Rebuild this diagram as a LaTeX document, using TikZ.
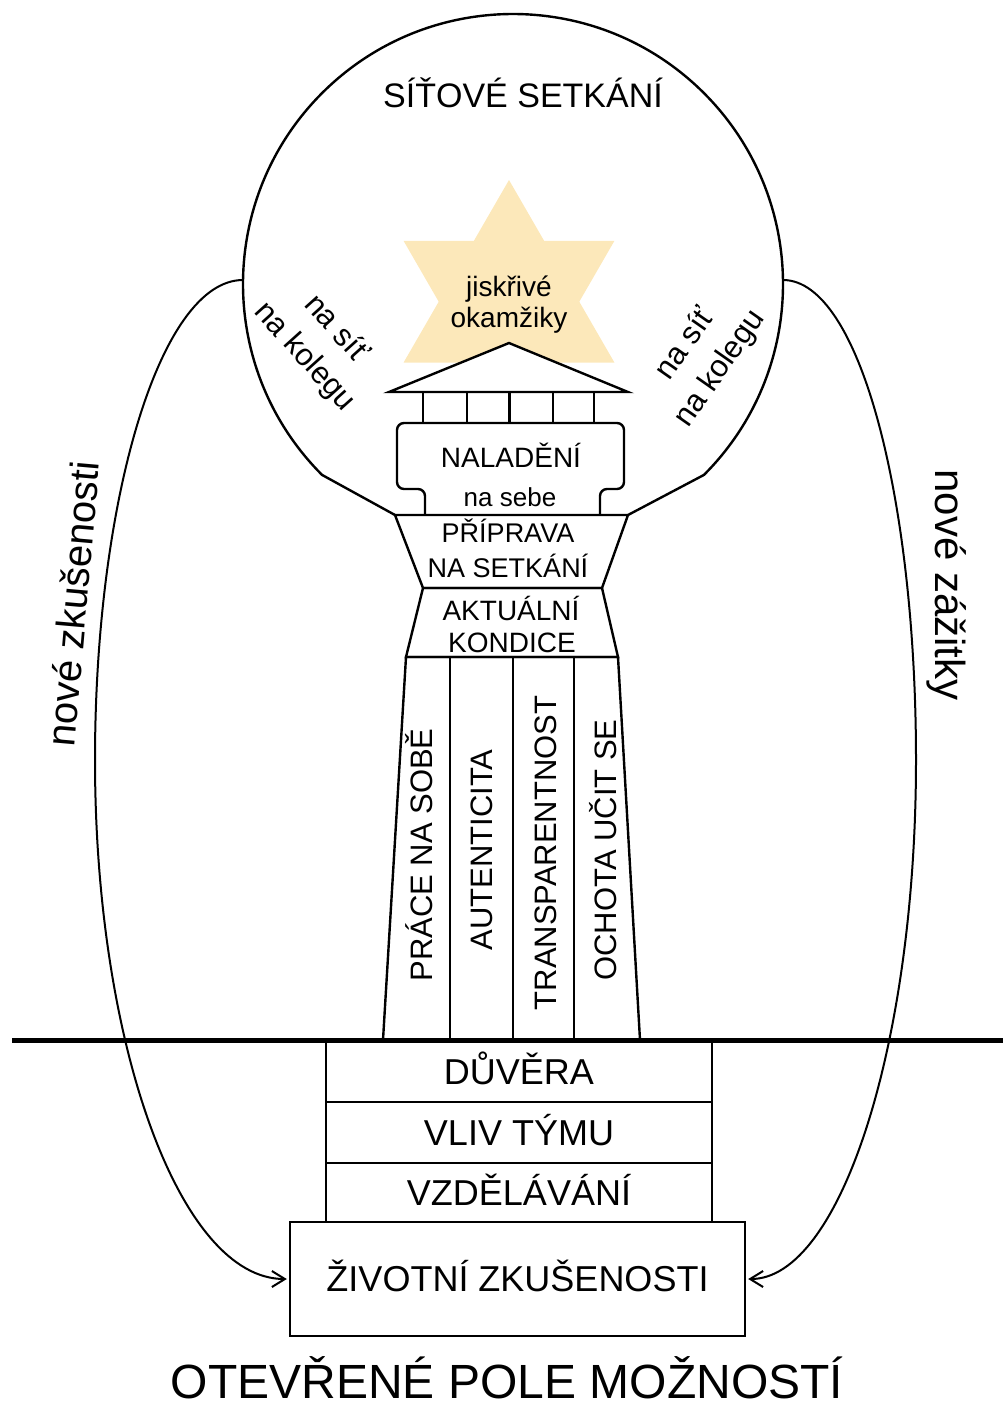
\documentclass[tikz,border=0pt]{standalone}
\usepackage{fontspec}
\setmainfont{Liberation Sans}
\usetikzlibrary{arrows.meta,calc}
\definecolor{starfill}{RGB}{252,232,186}
\newcommand{\fsz}[1]{\fontsize{#1}{#1}\selectfont}
\begin{document}
\begin{tikzpicture}[x=1pt,y=-1pt,
  outl/.style={line width=2.4pt, line join=miter},
  txt/.style={inner sep=0pt, anchor=base, text=black},
  boxn/.style={draw, line width=2.4pt, inner sep=0pt, text height=25.8pt, text depth=0pt, font=\fsz{36}},
  arr/.style={line width=2pt, -{Straight Barb[length=13pt,width=16pt,line width=2pt]}}
]
\useasboundingbox (0,0) rectangle (1003,1406);

% star
\fill[starfill] (509,180) -- (403.6,362.5) -- (614.4,362.5) -- cycle;
\fill[starfill] (403.6,240.9) -- (614.4,240.9) -- (509,423.4) -- cycle;

% circle outline with shoulders
\draw[outl] (395,515) -- (322.08,474.92) arc[start angle=135, end angle=405, radius=270] -- (628,515);
\coordinate (cl) at (243,280);
\coordinate (cr) at (783,280);

% railing and roof
\fill[white] (397,392) rectangle (624,423);
\draw[outl] (389,392) -- (628,392);
\foreach \px in {422.7,466.7,509.3,552.7,594} \draw[outl] (\px,392) -- (\px,423);
\draw[outl, fill=white] (389,392) -- (509,343) -- (628,392) -- cycle;

% naladeni box
\draw[outl, rounded corners=7pt, fill=white] (425,515) -- (425,489) -- (397,489) -- (397,423) -- (624,423) -- (624,489) -- (600,489) -- (600,515);

% trapezoids
\draw[outl] (395,515) -- (628,515) -- (602,588) -- (423,588) -- cycle;
\draw[outl] (423,588) -- (602,588) -- (618,657) -- (406,657) -- cycle;

% columns
\draw[outl] (406,657) -- (618,657) -- (640,1040) -- (383,1040) -- cycle;
\foreach \px in {450,513,574} \draw[outl] (\px,657) -- (\px,1040);

% ground line
\draw[line width=5pt] (12,1040) -- (1003,1040);

% bottom boxes
\node[boxn, minimum width=386pt, minimum height=60pt] (duv) at (519,1072) {DŮVĚRA};
\node[boxn, minimum width=386pt, minimum height=61pt] (vliv) at (519,1132.5) {VLIV TÝMU};
\node[boxn, minimum width=386pt, minimum height=59pt] (vzd) at (519,1192.5) {VZDĚLÁVÁNÍ};
\node[boxn, minimum width=455pt, minimum height=114pt, fill=white] (ziv) at (517.5,1279) {ŽIVOTNÍ ZKUŠENOSTI};

% arrows
\draw[arr, shorten >=2pt] (cl) .. controls (160,280) and (95,500) .. (95,760) .. controls (95,1045) and (180,1279) .. (ziv.west);
\draw[arr, shorten >=2pt] (cr) .. controls (860,280) and (916,500) .. (916,760) .. controls (916,1045) and (840,1279) .. (ziv.east);

% texts
\node[txt, font=\fsz{34}] (sit) at (523,107) {SÍŤOVÉ SETKÁNÍ};
\node[txt, font=\fsz{28}] (jis) at (509,296) {jiskřivé};
\node[txt, font=\fsz{28}] (oka) at (509,327) {okamžiky};
\node[inner sep=0pt, align=center, rotate=-48, font=\fontsize{31}{42}\selectfont] (lnet) at (320,343) {na síť\\na kolegu};
\node[inner sep=0pt, align=center, rotate=55, font=\fontsize{31}{42}\selectfont] (rnet) at (703,357) {na síť\\na kolegu};
\node[txt, font=\fsz{28}] (nal) at (511,467) {NALADĚNÍ};
\node[txt, font=\fsz{26}] (nas) at (510,506) {na sebe};
\node[txt, font=\fsz{27}] (pri) at (508,542) {PŘÍPRAVA};
\node[txt, font=\fsz{27}] (nast) at (508,577) {NA SETKÁNÍ};
\node[txt, font=\fsz{28}] (akt) at (511,620) {AKTUÁLNÍ};
\node[txt, font=\fsz{28}] (kon) at (512,652) {KONDICE};
\node[txt, font=\fsz{31}, rotate=90] (c1) at (432.6,855) {PRÁCE NA SOBĚ};
\node[txt, font=\fsz{31}, rotate=90] (c2) at (492.6,850) {AUTENTICITA};
\node[txt, font=\fsz{31}, rotate=90] (c3) at (556,853) {TRANSPARENTNOST};
\node[txt, font=\fsz{31}, rotate=90] (c4) at (616,850) {OCHOTA UČIT SE};
\node[txt, font=\fsz{40}, rotate=85] (nz) at (87,605) {nové zkušenosti};
\node[txt, font=\fsz{42}, rotate=-90] (nzz) at (935,585) {nové zážitky};
\node[txt, font=\fsz{48}] (ote) at (507,1398) {OTEVŘENÉ POLE MOŽNOSTÍ};
\end{tikzpicture}
\end{document}
